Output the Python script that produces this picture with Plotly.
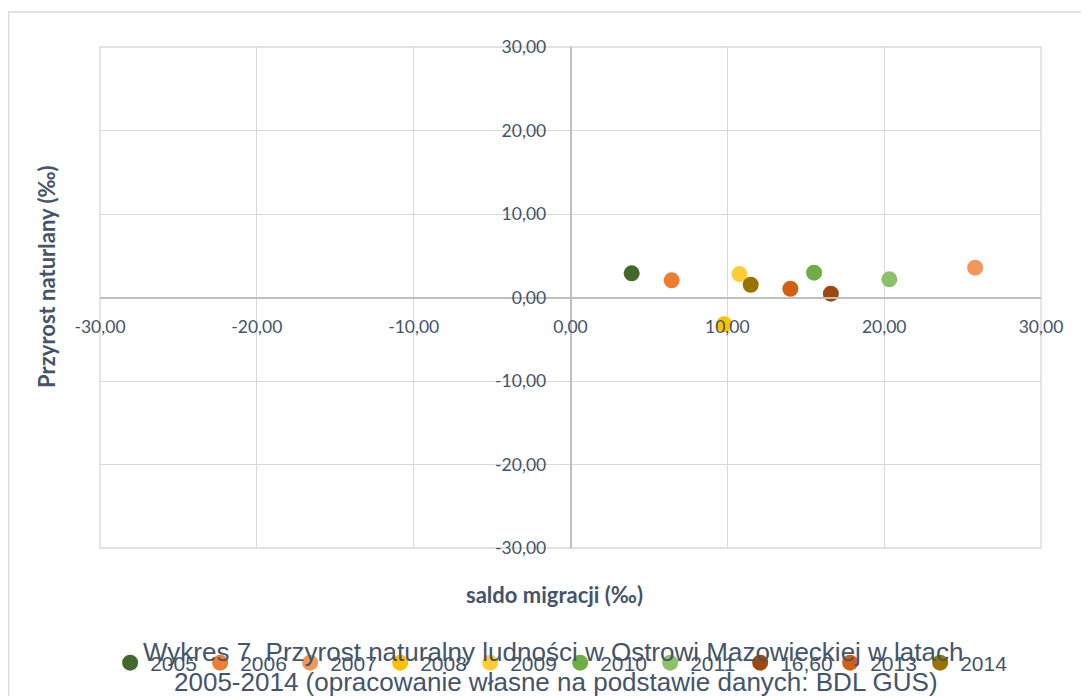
import plotly.graph_objects as go

# ---- data ----
series_names = ["2005", "2006", "2007", "2008", "2009", "2010", "2011", "16,60", "2013", "2014"]
saldo_migracji = [3.90, 6.45, 25.80, 9.80, 10.77, 15.53, 20.33, 16.60, 14.02, 11.49]
przyrost_naturalny = [2.90, 2.06, 3.57, -3.20, 2.81, 2.97, 2.18, 0.46, 1.05, 1.53]
series_colors = ["#43682B", "#ED7D31", "#F1975A", "#FFC000", "#FFCD33",
                 "#70AD47", "#8CC168", "#9E480E", "#D26012", "#997300"]

x_tick_vals = [-30, -20, -10, 0, 10, 20, 30]
x_tick_text = ["-30,00", "-20,00", "-10,00", "0,00", "10,00", "20,00", "30,00"]
y_tick_vals = [-30, -20, -10, 0, 10, 20, 30]
y_tick_text = ["-30,00", "-20,00", "-10,00", "0,00", "10,00", "20,00", "30,00"]

x_title = "saldo migracji (‰)"
y_title = "Przyrost naturlany (‰)"
caption_1 = "Wykres 7. Przyrost naturalny ludności w Ostrowi Mazowieckiej w latach"
caption_2 = "2005-2014 (opracowanie własne na podstawie danych: BDL GUS)"

TXT = "#44546A"
GRID = "#D9D9D9"
AXIS = "#BFBFBF"

fig = go.Figure()
for name, xv, yv, col in zip(series_names, saldo_migracji, przyrost_naturalny, series_colors):
    fig.add_trace(go.Scatter(
        x=[xv], y=[yv], mode="markers", name=name,
        marker=dict(color=col, size=16, line=dict(width=0)),
    ))

axis_common = dict(
    range=[-30, 30], showgrid=True, gridcolor=GRID, gridwidth=1.3,
    zeroline=False, showline=True, linecolor=AXIS, linewidth=1.6,
    ticks="", anchor="free", position=0.5,
    tickfont=dict(family="Lato", size=17.5, color=TXT),
    fixedrange=True,
)
fig.update_xaxes(tickvals=x_tick_vals, ticktext=x_tick_text, ticklabelstandoff=14, **axis_common)
fig.update_yaxes(tickvals=y_tick_vals, ticktext=y_tick_text, ticklabelstandoff=20, **axis_common)

fig.update_layout(
    width=1081, height=688,
    margin=dict(l=92, r=48, t=39, b=148),
    paper_bgcolor="white", plot_bgcolor="white",
    showlegend=True,
    legend=dict(
        orientation="h", x=0.489, xanchor="center", y=-0.2295, yanchor="middle",
        font=dict(family="Liberation Sans", size=21, color=TXT),
        itemwidth=30, entrywidth=45, entrywidthmode="pixels",
        bgcolor="rgba(0,0,0,0)",
    ),
    shapes=[
        dict(type="rect", xref="paper", yref="paper", x0=-0.0972, x1=1.2, y0=-0.4, y1=1.0699,
             line=dict(color=GRID, width=1.5), layer="below"),
        dict(type="rect", xref="x domain", yref="y domain", x0=0, x1=1, y0=0, y1=1,
             line=dict(color=GRID, width=1.3), layer="below"),
    ],
    annotations=[
        dict(text=x_title, xref="paper", yref="paper", x=0.4825, y=-0.0938,
             showarrow=False, xanchor="center", yanchor="middle",
             font=dict(family="Lato", size=22, color=TXT, weight="bold")),
        dict(text=y_title, xref="paper", yref="paper", x=-0.0563, y=0.541, textangle=-90,
             showarrow=False, xanchor="center", yanchor="middle",
             font=dict(family="Lato", size=22, color=TXT, weight="bold")),
        dict(text=caption_1, xref="paper", yref="paper", x=0.4815, y=-0.2076,
             showarrow=False, xanchor="center", yanchor="middle",
             font=dict(family="Liberation Sans", size=26, color=TXT)),
        dict(text=caption_2, xref="paper", yref="paper", x=0.4845, y=-0.2675,
             showarrow=False, xanchor="center", yanchor="middle",
             font=dict(family="Liberation Sans", size=26, color=TXT)),
    ],
)

fig.write_html("out.html")
